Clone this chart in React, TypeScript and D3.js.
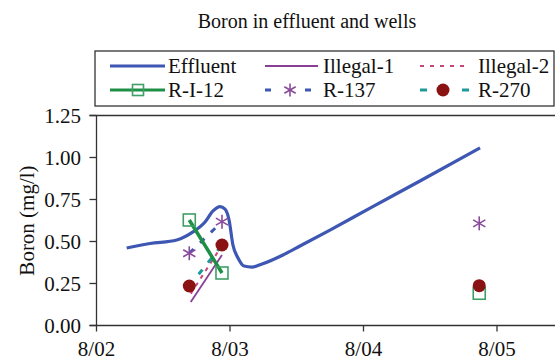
import React from "react";
import * as d3 from "d3";

// ---- data (x in years, 2002 = 8/02) ----
const xTickValues = [2002, 2003, 2004, 2005];
const xTickLabels = ["8/02", "8/03", "8/04", "8/05"];
const yTickValues = [0, 0.25, 0.5, 0.75, 1.0, 1.25];

const effluentDates = [
  2002.226, 2002.401, 2002.601, 2002.723, 2002.813, 2002.873, 2002.925, 2002.963,
  2002.993, 2003.022, 2003.06, 2003.105, 2003.165, 2003.24, 2003.397, 2003.524,
  2003.749, 2004.049, 2004.423, 2004.873,
];
const effluentValues = [
  0.461, 0.488, 0.509, 0.557, 0.616, 0.682, 0.708, 0.693, 0.628, 0.479, 0.402,
  0.354, 0.348, 0.366, 0.42, 0.473, 0.568, 0.699, 0.86, 1.057,
];

const illegalDates = [2002.706, 2002.94];
const illegal1Values = [0.14, 0.42];
const illegal2Values = [0.19, 0.476];

const wellDates = [2002.695, 2002.94, 2004.867];
const rI12Values = [0.628, 0.3125, 0.192];
const r137Values = [0.43, 0.618, 0.608];
const r270Values = [0.235, 0.479, 0.237];

const MAX_GAP = 0.5; // samples further apart than this are not connected

const C = {
  effluent: "#3d57b3",
  illegal1: "#8a3f97",
  illegal2: "#c8457a",
  green: "#1f8f45",
  greenMarker: "#3f9f66",
  asterisk: "#8a4a9c",
  blueDash: "#3d57b3",
  teal: "#1e9a9a",
  red: "#8b1212",
};

const FONT = "'Liberation Serif', 'Times New Roman', serif";

function segments(dates: number[], values: number[]) {
  const segs: [number, number][][] = [];
  let cur: [number, number][] = [];
  dates.forEach((d, i) => {
    if (cur.length && d - cur[cur.length - 1][0] > MAX_GAP) {
      segs.push(cur);
      cur = [];
    }
    cur.push([d, values[i]]);
  });
  if (cur.length) segs.push(cur);
  return segs.filter((s) => s.length > 1);
}

function Square({ x, y, s = 12 }: { x: number; y: number; s?: number }) {
  return (
    <rect x={x - s / 2} y={y - s / 2} width={s} height={s} fill="none"
      stroke={C.greenMarker} strokeWidth={1.6} />
  );
}
function Asterisk({ x, y, r = 7 }: { x: number; y: number; r?: number }) {
  const d = r * 0.87;
  const h = r * 0.5;
  return (
    <g stroke={C.asterisk} strokeWidth={1.6}>
      <line x1={x} y1={y - r} x2={x} y2={y + r} />
      <line x1={x - d} y1={y - h} x2={x + d} y2={y + h} />
      <line x1={x - d} y1={y + h} x2={x + d} y2={y - h} />
    </g>
  );
}
function Dot({ x, y, r = 6.5 }: { x: number; y: number; r?: number }) {
  return <circle cx={x} cy={y} r={r} fill={C.red} />;
}

export default function App() {
  const W = 555, H = 362;
  const x = d3.scaleLinear().domain([2002, 2005]).range([96.5, 497]);
  const y = d3.scaleLinear().domain([0, 1.25]).range([325.5, 115.5]);
  const left = 96.5, right = 555, top = y(1.25), bottom = y(0);

  const line = d3.line<[number, number]>().x((d) => x(d[0])).y((d) => y(d[1]));
  const smooth = d3
    .line<[number, number]>()
    .x((d) => x(d[0]))
    .y((d) => y(d[1]))
    .curve(d3.curveMonotoneX);

  const eff = effluentDates.map((d, i) => [d, effluentValues[i]] as [number, number]);
  const ill1 = illegalDates.map((d, i) => [d, illegal1Values[i]] as [number, number]);
  const ill2 = illegalDates.map((d, i) => [d, illegal2Values[i]] as [number, number]);

  const fs = 21;

  return (
    <svg width={W} height={H} style={{ position: "absolute", left: 0, top: 0, background: "#fff" }}
      fontFamily={FONT}>
      <text x={307} y={28} fontSize={20} textAnchor="middle" fill="#111">
        Boron in effluent and wells
      </text>

      {/* legend */}
      <rect x={95} y={51} width={459} height={55} fill="none" stroke="#333" strokeWidth={1.3} />
      <g fontSize={fs} fill="#111">
        <line x1={110} x2={165} y1={66} y2={66} stroke={C.effluent} strokeWidth={3} />
        <text x={168} y={73}>Effluent</text>
        <line x1={265} x2={318} y1={66} y2={66} stroke={C.illegal1} strokeWidth={2} />
        <text x={323} y={73}>Illegal-1</text>
        <line x1={420} x2={470} y1={66} y2={66} stroke={C.illegal2} strokeWidth={2}
          strokeDasharray="4 6" />
        <text x={478} y={73}>Illegal-2</text>

        <line x1={110} x2={165} y1={90} y2={90} stroke={C.green} strokeWidth={3} />
        <Square x={138} y={90} s={11} />
        <text x={168} y={97}>R-I-12</text>
        <line x1={265} x2={271} y1={90} y2={90} stroke={C.blueDash} strokeWidth={3} />
        <line x1={305} x2={311} y1={90} y2={90} stroke={C.blueDash} strokeWidth={3} />
        <Asterisk x={290} y={90} r={6.5} />
        <text x={323} y={97}>R-137</text>
        <line x1={420} x2={427} y1={90} y2={90} stroke={C.teal} strokeWidth={3} />
        <line x1={462} x2={469} y1={90} y2={90} stroke={C.teal} strokeWidth={3} />
        <Dot x={443} y={90} r={6.5} />
        <text x={478} y={97}>R-270</text>
      </g>

      {/* axes */}
      <g stroke="#333" strokeWidth={1.3} fill="none">
        <line x1={left} x2={left} y1={top} y2={bottom} />
        <line x1={left - 7} x2={right} y1={top} y2={top} />
        <line x1={left - 7} x2={right} y1={bottom} y2={bottom} />
        {yTickValues.map((v) => (
          <line key={v} x1={left - 7} x2={left} y1={y(v)} y2={y(v)} />
        ))}
        {xTickValues.map((v) => (
          <line key={v} x1={x(v)} x2={x(v)} y1={bottom} y2={bottom + 6} />
        ))}
      </g>
      <g fontSize={fs} fill="#111">
        {yTickValues.map((v) => (
          <text key={v} x={81} y={y(v)} dy="0.35em" textAnchor="end">
            {v.toFixed(2)}
          </text>
        ))}
        {xTickValues.map((v, i) => (
          <text key={v} x={x(v)} y={356} textAnchor="middle">
            {xTickLabels[i]}
          </text>
        ))}
        <text transform={`translate(27,${(top + bottom) / 2}) rotate(-90)`} textAnchor="middle"
          dy="0.35em">
          Boron (mg/l)
        </text>
      </g>

      {/* series */}
      <path d={smooth(eff) || ""} fill="none" stroke={C.effluent} strokeWidth={3.2} />
      <path d={line(ill1) || ""} fill="none" stroke={C.illegal1} strokeWidth={1.8} />
      <path d={line(ill2) || ""} fill="none" stroke={C.illegal2} strokeWidth={2}
        strokeDasharray="4 5" />
      {segments(wellDates, r137Values).map((s, i) => (
        <path key={"b" + i} d={line(s) || ""} fill="none" stroke={C.blueDash} strokeWidth={3}
          strokeDasharray="6 9" />
      ))}
      {segments(wellDates, r270Values).map((s, i) => (
        <path key={"t" + i} d={line(s) || ""} fill="none" stroke={C.teal} strokeWidth={3}
          strokeDasharray="6 9" />
      ))}
      {segments(wellDates, rI12Values).map((s, i) => (
        <path key={"g" + i} d={line(s) || ""} fill="none" stroke={C.green} strokeWidth={3.5} />
      ))}
      {wellDates.map((d, i) => (
        <Square key={"s" + i} x={x(d)} y={y(rI12Values[i])} />
      ))}
      {wellDates.map((d, i) => (
        <Asterisk key={"a" + i} x={x(d)} y={y(r137Values[i])} />
      ))}
      {wellDates.map((d, i) => (
        <Dot key={"c" + i} x={x(d)} y={y(r270Values[i])} />
      ))}
    </svg>
  );
}
